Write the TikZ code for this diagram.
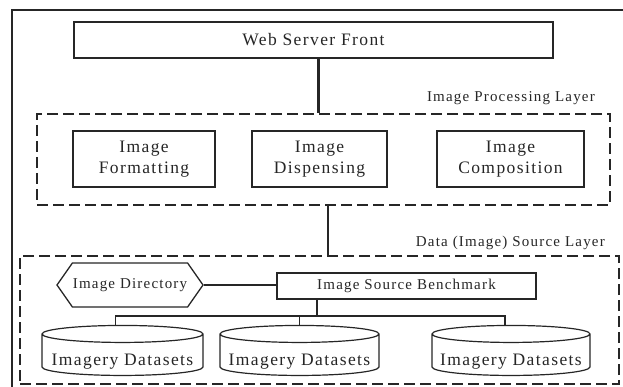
\documentclass[tikz,border=0pt]{standalone}
\usepackage{fontspec}
\setmainfont{Liberation Serif}[LetterSpace=8]
\usetikzlibrary{positioning,calc,shapes.geometric,shapes.symbols}
\definecolor{ArchInk}{RGB}{38,38,38}
\newcommand{\dbtext}[1]{\raisebox{-10pt}[0pt][0pt]{#1}}
\tikzset{
  arch/box/.style={
    draw=ArchInk,
    line width=1.3pt,
    fill=white,
    align=center,
    text=ArchInk,
    inner sep=0pt,
    font=\fontsize{17.5}{21}\selectfont
  },
  arch/layer/.style={
    draw=ArchInk,
    line width=1.5pt,
    dash pattern=on 11pt off 5pt,
    inner sep=0pt
  },
  arch/hex/.style={
    signal,
    signal to=west and east,
    signal pointer angle=110,
    draw=ArchInk,
    line width=1.3pt,
    fill=white,
    text=ArchInk,
    inner sep=0pt,
    font=\fontsize{15}{18}\selectfont
  },
  arch/db/.style={
    cylinder,
    shape border rotate=90,
    aspect=0.12,
    draw=ArchInk,
    line width=1.2pt,
    fill=white,
    text=ArchInk,
    inner sep=0pt,
    font=\fontsize{17.5}{21}\selectfont
  },
  arch/frame/.style={draw=ArchInk, line width=1.5pt},
  arch/bus/.style={draw=ArchInk, line width=2.6pt},
  arch/link/.style={draw=ArchInk, line width=1.1pt},
  arch/title/.style={font=\fontsize{15}{18}\selectfont, text=ArchInk, anchor=base east, inner sep=0pt}
}

\begin{document}
\begin{tikzpicture}[x=1pt,y=-1pt]
  \clip (0,0) rectangle (623,387);
  \draw[arch/frame] (12,400) |- (640,10);

  \node[arch/box,minimum width=479,minimum height=36] (web) at (313.5,40) {Web Server Front};

  % image processing layer
  \node[arch/layer,minimum width=573,minimum height=91] (ipl) at (323.5,159.5) {};
  \node[arch/title] (ipltitle) at (595,102) {Image Processing Layer};
  \node[arch/box,minimum width=142,minimum height=56] (fmt) at (144,159) {Image\\Formatting};
  \node[arch/box,minimum width=135,minimum height=56] (disp) at (319.5,159) {Image\\Dispensing};
  \node[arch/box,minimum width=147,minimum height=56] (comp) at (510.5,159) {Image\\Composition};

  % data source layer
  \node[arch/layer,minimum width=599,minimum height=128] (dsl) at (319.5,320) {};
  \node[arch/title] (dsltitle) at (605,247) {Data (Image) Source Layer};
  \node[arch/hex,minimum width=146,minimum height=44] (dir) at (130,285) {Image Directory};
  \node[arch/box,minimum width=259,minimum height=26,font=\fontsize{15}{18}\selectfont] (bench) at (406.5,286) {Image Source Benchmark};
  \node[arch/db,minimum width=161,minimum height=50] (cyl1) at (122.5,355) {\dbtext{Imagery Datasets}};
  \node[arch/db,minimum width=159,minimum height=50] (cyl2) at (299.5,355) {\dbtext{Imagery Datasets}};
  \node[arch/db,minimum width=158,minimum height=50] (cyl3) at (511,355) {\dbtext{Imagery Datasets}};
  \coordinate (split) at (317,316);

  \draw[arch/bus] ([xshift=5pt]web.south) -- ([xshift=5pt]web.south |- ipl.north);
  \draw[arch/bus] ([xshift=4.5pt]ipl.south) -- ([xshift=4.5pt]ipl.south |- dsl.north);
  \draw[arch/link] (dir.east) -- (dir.east -| bench.west);
  \draw[arch/link] (split |- bench.south) -- (split);
  \draw[arch/link] ([xshift=-7pt]cyl1.north) |- (split) -| ([xshift=-6pt]cyl3.north);
  \draw[arch/link] (split -| cyl2.north) -- (cyl2.north);
\end{tikzpicture}
\end{document}
